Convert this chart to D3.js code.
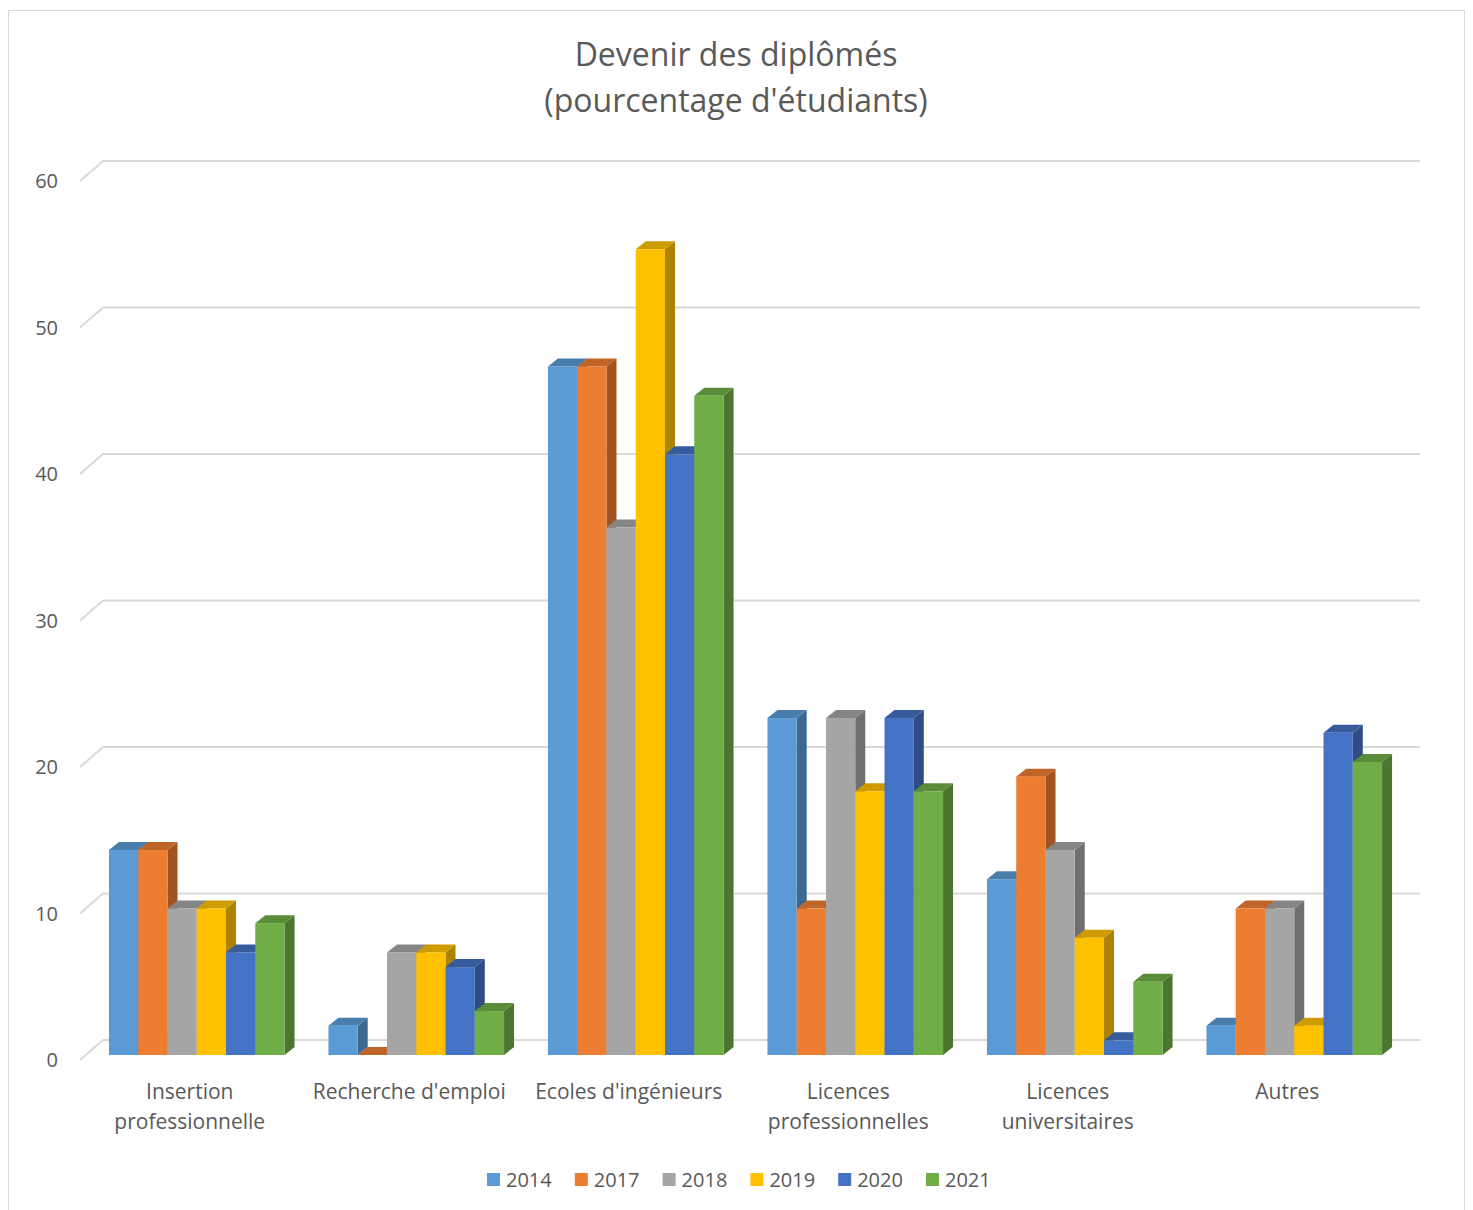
<!DOCTYPE html>
<html>
<head>
<meta charset="utf-8">
<script src="https://cdn.jsdelivr.net/npm/d3@7"></script>
<style>
  body { margin: 0; background: #fff; }
  svg { font-family: 'Open Sans', sans-serif; }
</style>
</head>
<body>
<div id="chart"></div>
<script>
const categories = [['Insertion', 'professionnelle'], ["Recherche d'emploi"], ["Ecoles d'ingénieurs"],
  ['Licences', 'professionnelles'], ['Licences', 'universitaires'], ['Autres']];
const years = ['2014', '2017', '2018', '2019', '2020', '2021'];
const values = [
  [14, 14, 10, 10, 7, 9],
  [2, 0, 7, 7, 6, 3],
  [47, 47, 36, 55, 41, 45],
  [23, 10, 23, 18, 23, 18],
  [12, 19, 14, 8, 1, 5],
  [2, 10, 10, 2, 22, 20]
];
const yTicks = [0, 10, 20, 30, 40, 50, 60];
const palette = ['#5B9BD5', '#ED7D31', '#A5A5A5', '#FFC000', '#4472C4', '#70AD47'];

const W = 1473, H = 1210;
const svg = d3.select('#chart').append('svg').attr('width', W).attr('height', H);

// chart border
svg.append('rect').attr('x', 8.5).attr('y', 10.5).attr('width', 1456).attr('height', 1210)
  .attr('fill', 'none').attr('stroke', '#D9D9D9');

// title
const title = svg.append('text').attr('text-anchor', 'middle').attr('fill', '#595959')
  .attr('font-size', 32);
title.append('tspan').attr('x', 736).attr('y', 66).text('Devenir des diplômés');
title.append('tspan').attr('x', 736).attr('y', 112).text("(pourcentage d'étudiants)");

// front plane of the 3D box
const x0 = d3.scaleBand().domain(d3.range(categories.length)).range([80, 1397]);
const y = d3.scaleLinear().domain([0, 60]).range([1060, 181]);
const back = { dx: 23, dy: -20 };   // depth of the box
const front = { dx: 7, dy: -5 };    // where the bars stand
const bd = { dx: 10, dy: -8 };      // depth of one bar
const x1 = d3.scaleBand().domain(d3.range(years.length))
  .range([0, x0.bandwidth() * 0.8]);
const groupOff = (x0.bandwidth() - x0.bandwidth() * 0.8) / 2;

// gridlines on back wall + side wall
const grid = svg.append('g').attr('stroke', '#D9D9D9').attr('stroke-width', 2).attr('fill', 'none');
yTicks.forEach(t => {
  grid.append('path').attr('d', d3.line()([
    [80, y(t)], [80 + back.dx, y(t) + back.dy], [1397 + back.dx, y(t) + back.dy]
  ]));
});

// y tick labels
svg.append('g').selectAll('text').data(yTicks).join('text')
  .attr('x', 58).attr('y', d => y(d)).attr('dy', '0.35em')
  .attr('text-anchor', 'end').attr('font-size', 20).attr('fill', '#595959')
  .text(d => d);

// bars
const bars = svg.append('g');
categories.forEach((c, ci) => {
  years.forEach((yr, si) => {
    const v = values[ci][si];
    const col = d3.color(palette[si]);
    const xl = x0(ci) + groupOff + x1(si) + front.dx;
    const xr = xl + x1.bandwidth();
    const yb = y(0) + front.dy;
    const yt = y(v) + front.dy;
    const g = bars.append('g');
    // side face
    g.append('path').attr('fill', col.darker(1.1))
      .attr('d', d3.line()([[xr, yt], [xr + bd.dx, yt + bd.dy], [xr + bd.dx, yb + bd.dy], [xr, yb]]) + 'Z');
    // top face
    g.append('path').attr('fill', col.darker(0.6))
      .attr('d', d3.line()([[xl, yt], [xl + bd.dx, yt + bd.dy], [xr + bd.dx, yt + bd.dy], [xr, yt]]) + 'Z');
    // front face
    g.append('rect').attr('x', xl).attr('y', yt).attr('width', xr - xl).attr('height', yb - yt)
      .attr('fill', col);
  });
});

// category labels
const cl = svg.append('g').attr('font-size', 21).attr('fill', '#595959').attr('text-anchor', 'middle');
categories.forEach((c, ci) => {
  const t = cl.append('text');
  c.forEach((line, li) => {
    t.append('tspan').attr('x', x0(ci) + x0.bandwidth() / 2).attr('y', 1099 + li * 30).text(line);
  });
});

// legend
const lg = svg.append('g').attr('font-size', 20).attr('fill', '#595959');
years.forEach((yr, i) => {
  const lx = 487 + i * 87.8;
  lg.append('rect').attr('x', lx).attr('y', 1173).attr('width', 13).attr('height', 13).attr('fill', palette[i]);
  lg.append('text').attr('x', lx + 19).attr('y', 1187).text(yr);
});
</script>
</body>
</html>
